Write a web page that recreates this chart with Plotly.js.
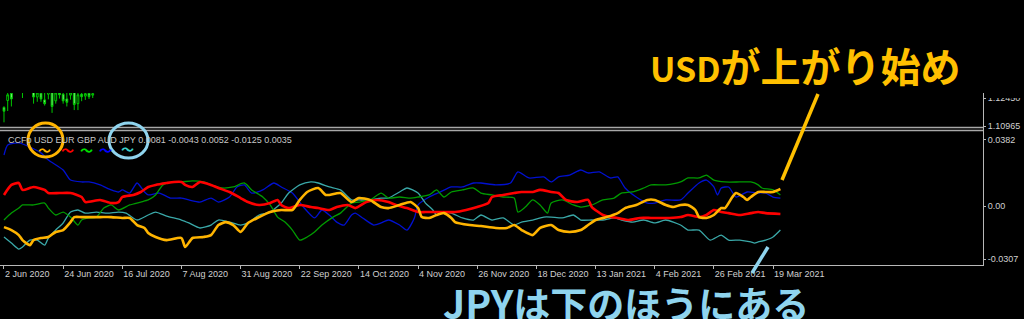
<!DOCTYPE html>
<html>
<head>
<meta charset="utf-8">
<script src="https://cdn.plot.ly/plotly-3.0.1.min.js"></script>
<style>
html,body{margin:0;padding:0;background:#000;}
#chart{width:1024px;height:319px;}
</style>
</head>
<body>
<div id="chart"></div>
<script>
// ---- Data (bar index on x, CCFp strength on y) ----
const tickIdx = [0,16,32,48,64,80,96,112,128,144,160,176,192,208];
const tickDates = ["2 Jun 2020","24 Jun 2020","16 Jul 2020","7 Aug 2020","31 Aug 2020","22 Sep 2020","14 Oct 2020","4 Nov 2020","26 Nov 2020","18 Dec 2020","13 Jan 2021","4 Feb 2021","26 Feb 2021","19 Mar 2021"];

const audX = [0,1,4,7,10,12,16,18,21,23,26,29,31,32,34,36,38,39,42,45,48,50,53,56,58,61,63,65,67,70,73,75,78,81,84,86,88,90,92,94,95,97,100,102,104,107,109,111,112,115,118,121,124,127,129,133,137,139,142,146,148,150,153,156,158,161,164,166,168,171,174,176,179,183,185,188,190,192,193,194,196,198,201,204,206,208,210];
const audV = [0.0295,0.0353,0.0365,0.0341,0.0307,0.0266,0.0208,0.0150,0.0139,0.0139,0.0122,0.0093,0.0081,0.0093,0.0075,0.0133,0.0081,0.0064,0.0075,0.0046,0.0046,0.0035,0.0023,0.0046,0.0023,0.0052,0.0110,0.0122,0.0075,0.0093,0.0133,0.0110,0.0075,-0.0006,-0.0069,-0.0023,-0.0052,-0.0093,-0.0110,-0.0052,-0.0041,-0.0069,-0.0110,-0.0098,-0.0081,-0.0110,-0.0139,-0.0069,0.0006,0.0052,0.0081,0.0110,0.0110,0.0133,0.0133,0.0122,0.0133,0.0197,0.0162,0.0168,0.0139,0.0168,0.0179,0.0208,0.0191,0.0197,0.0162,0.0168,0.0104,0.0052,0.0017,0.0017,0.0035,0.0035,0.0075,0.0133,0.0150,0.0110,0.0064,0.0104,0.0110,0.0052,0.0081,0.0075,0.0075,0.0052,0.0046];

const eurX = [0,2,4,5,8,11,12,15,18,21,22,26,29,31,32,35,37,39,41,44,46,48,49,51,53,56,58,61,64,66,69,72,74,75,77,80,83,85,88,90,93,95,98,101,104,106,109,112,114,117,120,122,125,128,131,132,135,138,140,143,145,148,150,152,155,158,159,162,164,166,169,172,175,177,180,183,185,188,190,192,194,196,199,202,204,206,210];
const eurV = [0.0064,0.0122,0.0133,0.0093,0.0110,0.0093,0.0075,0.0075,0.0075,0.0052,0.0023,0.0035,0.0017,0.0023,0.0052,0.0064,0.0081,0.0110,0.0122,0.0133,0.0139,0.0139,0.0122,0.0110,0.0139,0.0122,0.0104,0.0081,0.0046,0.0023,0.0006,0.0017,0.0035,0.0006,-0.0012,0.0006,-0.0006,-0.0012,-0.0023,-0.0006,0.0006,-0.0012,0.0023,0.0035,0.0023,0.0006,-0.0012,-0.0035,-0.0035,-0.0035,-0.0035,-0.0035,-0.0023,-0.0006,0.0017,0.0052,0.0064,0.0075,0.0081,0.0081,0.0093,0.0081,0.0075,0.0035,0.0023,0.0035,-0.0006,-0.0052,-0.0064,-0.0069,-0.0081,-0.0069,-0.0069,-0.0069,-0.0069,-0.0064,-0.0052,-0.0064,-0.0052,-0.0023,-0.0035,-0.0041,-0.0052,-0.0041,-0.0035,-0.0041,-0.0046];

const gbpX = [0,2,4,5,8,11,12,14,16,18,20,21,23,25,27,29,31,34,37,39,41,43,46,48,51,54,56,59,62,65,67,70,72,74,76,78,80,82,84,86,89,91,94,96,99,102,104,107,110,112,115,117,119,121,124,127,129,132,135,138,139,141,143,145,147,148,151,154,156,159,162,165,167,170,173,175,179,183,185,188,190,192,195,199,202,204,205,208,210];
const gbpV = [-0.0081,-0.0041,-0.0012,0.0006,0.0006,0.0017,-0.0012,-0.0052,-0.0035,-0.0064,-0.0110,-0.0081,-0.0069,-0.0064,-0.0012,0.0006,-0.0023,0.0006,0.0023,0.0035,0.0064,0.0122,0.0139,0.0139,0.0145,0.0139,0.0122,0.0104,0.0110,0.0133,0.0093,0.0052,0.0006,-0.0064,-0.0093,-0.0139,-0.0197,-0.0179,-0.0150,-0.0110,-0.0064,-0.0041,0.0017,0.0023,0.0035,0.0075,0.0046,0.0052,0.0046,0.0052,0.0064,0.0093,0.0052,0.0081,0.0093,0.0104,0.0075,0.0064,0.0052,0.0046,-0.0035,-0.0006,0.0035,0.0006,-0.0041,0.0017,0.0035,0.0006,-0.0006,0.0006,0.0035,0.0046,0.0075,0.0081,0.0104,0.0122,0.0122,0.0139,0.0162,0.0162,0.0179,0.0150,0.0139,0.0139,0.0139,0.0122,0.0104,0.0093,0.0064];

const jpyX = [0,2,4,5,7,9,11,12,14,16,18,20,22,25,28,31,33,36,39,41,44,48,50,53,56,58,61,64,66,69,72,75,77,80,83,85,88,91,94,96,99,102,104,107,109,112,114,116,117,119,121,124,127,129,132,135,138,140,143,146,148,151,154,156,159,162,165,167,170,173,176,179,183,185,188,191,194,196,199,202,203,204,206,208,210];
const jpyV = [-0.0179,-0.0214,-0.0249,-0.0237,-0.0197,-0.0197,-0.0226,-0.0185,-0.0139,-0.0098,-0.0035,-0.0023,-0.0041,-0.0035,-0.0041,-0.0035,-0.0041,-0.0081,-0.0052,-0.0035,-0.0058,-0.0081,-0.0098,-0.0127,-0.0110,-0.0081,-0.0093,-0.0110,-0.0098,-0.0052,-0.0035,0.0017,0.0075,0.0122,0.0139,0.0133,0.0110,0.0093,0.0035,0.0035,0.0035,0.0046,0.0046,0.0081,0.0104,0.0075,0.0017,-0.0023,-0.0052,-0.0035,-0.0041,-0.0069,-0.0081,-0.0052,-0.0081,-0.0069,-0.0110,-0.0093,-0.0081,-0.0064,-0.0064,-0.0069,-0.0052,-0.0081,-0.0081,-0.0081,-0.0069,-0.0081,-0.0093,-0.0081,-0.0098,-0.0081,-0.0110,-0.0139,-0.0139,-0.0197,-0.0168,-0.0197,-0.0197,-0.0208,-0.0214,-0.0208,-0.0197,-0.0179,-0.0139];

const usdX = [0,2,4,5,7,8,10,12,14,16,18,19,21,26,29,32,34,36,38,39,41,44,48,49,51,54,56,58,60,62,64,66,69,72,75,78,80,82,85,87,88,91,94,96,99,102,104,107,110,112,113,115,117,119,121,122,126,129,133,136,138,140,143,145,148,150,153,156,158,160,163,166,168,171,174,176,179,181,183,185,187,188,190,192,194,195,197,198,200,201,202,204,206,208,210];
const usdV = [-0.0122,-0.0139,-0.0168,-0.0197,-0.0226,-0.0197,-0.0185,-0.0179,-0.0150,-0.0139,-0.0093,-0.0064,-0.0064,-0.0064,-0.0064,-0.0069,-0.0069,-0.0110,-0.0127,-0.0156,-0.0179,-0.0197,-0.0185,-0.0237,-0.0185,-0.0179,-0.0168,-0.0110,-0.0093,-0.0110,-0.0150,-0.0098,-0.0064,-0.0035,-0.0023,-0.0023,0.0035,0.0081,0.0104,0.0064,0.0064,0.0075,0.0023,0.0046,0.0035,-0.0006,-0.0012,0.0006,0.0023,-0.0012,-0.0064,-0.0069,-0.0052,-0.0041,-0.0069,-0.0093,-0.0110,-0.0116,-0.0127,-0.0127,-0.0110,-0.0139,-0.0168,-0.0127,-0.0110,-0.0139,-0.0150,-0.0139,-0.0110,-0.0081,-0.0064,-0.0041,-0.0012,0.0006,0.0035,0.0035,0.0006,-0.0006,0.0006,0.0006,-0.0023,-0.0064,-0.0069,-0.0052,-0.0012,-0.0012,0.0052,0.0075,0.0052,0.0035,0.0052,0.0081,0.0081,0.0081,0.0098];

// Upper panel price bars (EURUSD, partly cropped)
const barIdx   = [0,1,2,3,4,5,6,7,8,9,10,11,12,13,14,15,16,17,18,19,20,21,22,23,24];
const barOpen  = [1.1195,1.1232,1.1270,1.1285,1.1290,1.1285,1.1280,1.1285,1.1290,1.1250,1.1270,1.1235,1.1265,1.1285,1.1230,1.1272,1.1265,1.1240,1.1260,1.1275,1.1215,1.1265,1.1255,1.1270,1.1260];
const barHigh  = [1.1201,1.1290,1.1295,1.1300,1.1310,1.1300,1.1300,1.1300,1.1300,1.1285,1.1290,1.1275,1.1290,1.1295,1.1285,1.1290,1.1285,1.1280,1.1285,1.1290,1.1275,1.1285,1.1280,1.1290,1.1285];
const barLow   = [1.1116,1.1176,1.1200,1.1275,1.1277,1.1245,1.1276,1.1278,1.1215,1.1225,1.1225,1.1205,1.1238,1.1166,1.1215,1.1242,1.1215,1.1200,1.1236,1.1181,1.1181,1.1228,1.1235,1.1240,1.1245];
const barClose = [1.1175,1.1262,1.1240,1.1292,1.1282,1.1278,1.1288,1.1292,1.1250,1.1272,1.1240,1.1215,1.1282,1.1200,1.1272,1.1262,1.1230,1.1222,1.1272,1.1210,1.1262,1.1252,1.1268,1.1252,1.1268];

const priceTicks = [1.12450, 1.10965];
const priceTickText = ["1.12450","1.10965"];
const ccfTicks = [0.0382, 0, -0.0307];
const ccfTickText = ["0.0382","0.00","-0.0307"];

const legendText = "CCFp USD EUR GBP AUD JPY 0.0081 -0.0043 0.0052 -0.0125 0.0035";

// ---- helpers for pixel placement ----
const W = 1024, H = 319;
const px = x => x / W;
const py = y => 1 - y / H;

const lineTrace = (x, y, color, width) => ({
  type: 'scatter', mode: 'lines', x: x, y: y, xaxis: 'x', yaxis: 'y',
  line: {color: color, width: width, shape: 'spline', smoothing: 0.6},
  hoverinfo: 'skip', showlegend: false
});

const data = [
  {
    type: 'candlestick', x: barIdx, open: barOpen, high: barHigh, low: barLow, close: barClose,
    xaxis: 'x', yaxis: 'y2', showlegend: false, hoverinfo: 'skip',
    increasing: {line: {color: '#00c800', width: 1}, fillcolor: '#000000'},
    decreasing: {line: {color: '#00c800', width: 1}, fillcolor: '#8cf08c'},
    whiskerwidth: 0
  },
  lineTrace(audX, audV, '#0010d0', 1.3),
  lineTrace(jpyX, jpyV, '#3aa8a8', 1.3),
  lineTrace(gbpX, gbpV, '#009a00', 1.3),
  lineTrace(eurX, eurV, '#ff0000', 2.6),
  lineTrace(usdX, usdV, '#ffb400', 2.6)
];

const axisFont = {family: 'Liberation Sans, Arial, sans-serif', size: 9, color: '#d0d0d0'};
const axisCol = '#b8b8b8';

const tilde = (x, y, color) => ({
  xref: 'paper', yref: 'paper', x: px(x), y: py(y), xanchor: 'center', yanchor: 'middle', showarrow: false,
  text: '〜', font: {family: 'Noto Sans CJK JP, sans-serif', size: 13, color: color, weight: 'bold'}
});

const layout = {
  width: W, height: H, autosize: false,
  margin: {l: 0, r: 0, t: 0, b: 0, pad: 0},
  paper_bgcolor: '#000000', plot_bgcolor: '#000000',
  showlegend: false, hovermode: false,
  xaxis: {
    domain: [0, 983 / W], range: [-1.08, 264.8], anchor: 'y',
    tickmode: 'array', tickvals: tickIdx, ticktext: tickDates, tickangle: 0,
    ticks: 'outside', ticklen: 3, tickcolor: axisCol, tickwidth: 1,
    ticklabelposition: 'outside right',
    showline: true, linecolor: axisCol, linewidth: 1,
    showgrid: false, zeroline: false, tickfont: axisFont,
    rangeslider: {visible: false}, fixedrange: true
  },
  yaxis: {
    domain: [py(265), py(133)], range: [-0.0341, 0.0422], anchor: 'x', side: 'right',
    tickmode: 'array', tickvals: ccfTicks, ticktext: ccfTickText,
    ticks: 'outside', ticklen: 2, tickcolor: axisCol,
    showline: true, linecolor: axisCol, linewidth: 1,
    showgrid: false, zeroline: false, tickfont: axisFont, fixedrange: true
  },
  yaxis2: {
    domain: [py(128), py(93)], range: [1.10859, 1.12715], anchor: 'x', side: 'right',
    tickmode: 'array', tickvals: priceTicks, ticktext: priceTickText,
    ticks: 'outside', ticklen: 2, tickcolor: axisCol,
    showline: true, linecolor: axisCol, linewidth: 1,
    showgrid: false, zeroline: false, tickfont: axisFont, fixedrange: true
  },
  shapes: [
    {type: 'line', xref: 'paper', yref: 'paper', x0: 0, x1: px(983), y0: py(127.5), y1: py(127.5), line: {color: '#a8a8a8', width: 1.3}},
    {type: 'line', xref: 'paper', yref: 'paper', x0: 0, x1: px(983), y0: py(130.5), y1: py(130.5), line: {color: '#a8a8a8', width: 1.3}},
    {type: 'line', xref: 'paper', yref: 'paper', x0: px(983.5), x1: px(983.5), y0: py(127), y1: py(134), line: {color: axisCol, width: 1}},
    {type: 'rect', xref: 'paper', yref: 'paper', x0: px(986), x1: 1, y0: py(98), y1: 1, fillcolor: '#000', line: {width: 0}},
    {type: 'circle', xref: 'paper', yref: 'paper', x0: px(28), x1: px(63), y0: py(157), y1: py(123), line: {color: '#ffb400', width: 3}},
    {type: 'circle', xref: 'paper', yref: 'paper', x0: px(109), x1: px(148), y0: py(158), y1: py(123), line: {color: '#8fd4ee', width: 3}},
    {type: 'line', xref: 'paper', yref: 'paper', x0: px(818), y0: py(94), x1: px(782), y1: py(180), line: {color: '#ffc000', width: 3.5}},
    {type: 'line', xref: 'paper', yref: 'paper', x0: px(768), y0: py(247), x1: px(752), y1: py(273), line: {color: '#8fd4ee', width: 3.5}}
  ],
  annotations: [
    {xref: 'paper', yref: 'paper', x: px(6), y: py(140), xanchor: 'left', yanchor: 'middle', showarrow: false,
     text: legendText, font: {family: 'Liberation Sans, Arial, sans-serif', size: 9, color: '#c8c8c8'}},
    tilde(44, 149, '#ffb400'),
    tilde(67, 149, '#ff0000'),
    tilde(86, 149, '#00e000'),
    tilde(105, 149, '#0000ff'),
    tilde(127, 148, '#3cd0c8'),
    {xref: 'paper', yref: 'paper', x: px(805), y: py(65), xanchor: 'center', yanchor: 'middle', showarrow: false,
     text: '<span style="font-size:34px">USD</span>が上がり始め',
     font: {family: 'Noto Sans CJK JP, sans-serif', size: 40, color: '#ffc000', weight: 'bold'}},
    {xref: 'paper', yref: 'paper', x: px(626), y: py(302), xanchor: 'center', yanchor: 'middle', showarrow: false,
     text: '<span style="font-size:39px">JPY</span>は下のほうにある',
     font: {family: 'Noto Sans CJK JP, sans-serif', size: 37, color: '#8fd4ee', weight: 'bold'}}
  ]
};

Plotly.newPlot('chart', data, layout, {displayModeBar: false, staticPlot: true});
</script>
</body>
</html>
